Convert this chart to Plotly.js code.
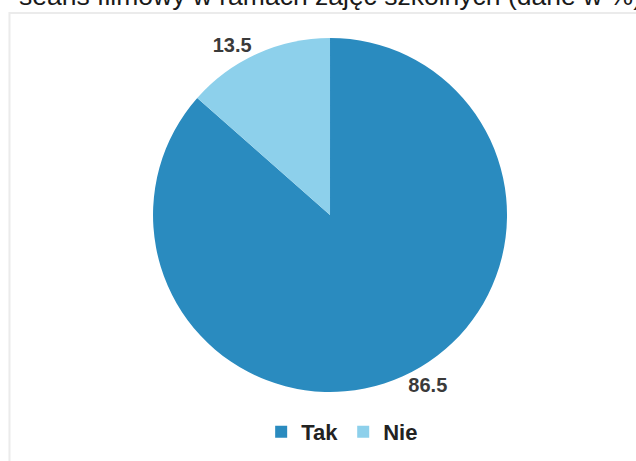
<!DOCTYPE html>
<html>
<head>
<meta charset="utf-8">
<script src="https://cdn.plot.ly/plotly-3.0.1.min.js"></script>
<style>
html,body{margin:0;padding:0;background:#fff;}
#chart{width:636px;height:461px;}
</style>
</head>
<body>
<div id="chart"></div>
<script>
const categories = ["Tak", "Nie"];
const values = [86.5, 13.5];
const colors = ["#2a8bbf", "#8dd0eb"];
const titleText = "seans filmowy w ramach zajęć szkolnych (dane w %)";

const data = [{
  type: "pie",
  labels: categories,
  values: values,
  sort: false,
  direction: "clockwise",
  rotation: 0,
  marker: {colors: colors, line: {width: 0}},
  textinfo: "value",
  textposition: "outside",
  textfont: {family: "Liberation Sans, Arial, sans-serif", size: 20, color: "#3a3a3a", weight: "bold"},
  hoverinfo: "none",
  domain: {x: [0.2406, 0.7972], y: [0.1497, 0.9176]},
  automargin: false
}];

const layout = {
  width: 636,
  height: 461,
  margin: {l: 0, r: 0, t: 0, b: 0},
  paper_bgcolor: "#ffffff",
  plot_bgcolor: "#ffffff",
  font: {family: "Liberation Sans, Arial, sans-serif", color: "#222"},
  annotations: [{
    text: titleText,
    font: {family: "Liberation Sans, Arial, sans-serif", size: 26.5, color: "#1a1a1a"},
    xref: "paper", yref: "paper",
    x: 0.0267, xanchor: "left",
    y: 1, yanchor: "middle", yshift: 4,
    showarrow: false
  }],
  showlegend: true,
  legend: {
    orientation: "h",
    x: 0.538, xanchor: "center",
    y: 0.063, yanchor: "middle",
    font: {family: "Liberation Sans, Arial, sans-serif", size: 22, color: "#222", weight: "bold"},
    itemwidth: 30,
    traceorder: "normal"
  },
  shapes: [{
    type: "rect", xref: "paper", yref: "paper",
    x0: 0.0149, x1: 1.05, y0: -0.05, y1: 0.9718,
    line: {color: "#ebebeb", width: 2},
    fillcolor: "rgba(0,0,0,0)",
    layer: "below"
  }]
};

Plotly.newPlot("chart", data, layout, {staticPlot: true, displayModeBar: false});
</script>
</body>
</html>
